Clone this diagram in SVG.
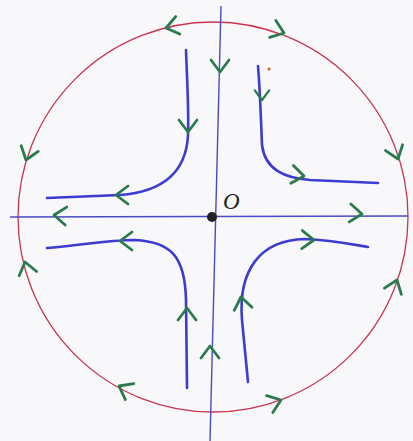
<svg xmlns="http://www.w3.org/2000/svg" width="413" height="441" viewBox="0 0 413 441">
<style>
.bg{fill:#f8f8fb}
.circ{fill:none;stroke:#c8344e;stroke-width:1.3}
.axis{fill:none;stroke:#4a4ac8;stroke-width:1.4}
.traj{fill:none;stroke:#3c3cd2;stroke-width:2.6;stroke-linecap:round;stroke-linejoin:round}
.chev{fill:none;stroke:#2b7a4c;stroke-width:2.8;stroke-linecap:round;stroke-linejoin:round}
.lbl{font-family:"Liberation Serif",serif;font-style:italic;font-size:23px;fill:#222}
</style>
<defs>
<path id="chev" class="chev" d="M-12,-9 L0,0 L-12,9"/>
</defs>
<rect class="bg" x="0" y="0" width="413" height="441"/>
<g id="circle-node">
<circle class="circ" cx="213" cy="217" r="195"/>
</g>
<g id="axes">
<path class="axis" d="M10,217 L408,216"/>
<path class="axis" d="M221,6 L210,441"/>
</g>
<g id="trajectories">
<path id="traj-ul" class="traj" d="M186,50 C187,80 189,110 188,135 C186,175 160,192 120,195 L47,198"/>
<path id="traj-ur" class="traj" d="M258,66 C260,90 261,120 262,145 C265,170 285,178 310,180 L378,183"/>
<path id="traj-ll" class="traj" d="M47,248 C80,245 110,240 135,240 C170,242 185,255 186,300 L187,388"/>
<path id="traj-lr" class="traj" d="M248,382 L242,320 C238,270 260,240 305,239 C330,240 350,244 368,247"/>
</g>
<g id="connectors">
<use href="#chev" transform="translate(188,132) rotate(90)"/>
<use href="#chev" transform="translate(116,195) rotate(180)"/>
<use href="#chev" transform="translate(262,100) rotate(90) scale(0.8)"/>
<use href="#chev" transform="translate(304,176) rotate(8)"/>
<use href="#chev" transform="translate(120,241) rotate(180)"/>
<use href="#chev" transform="translate(187,308) rotate(-90)"/>
<use href="#chev" transform="translate(241,297) rotate(-100)"/>
<use href="#chev" transform="translate(314,240) rotate(2)"/>
<use href="#chev" transform="translate(54,215) rotate(185)"/>
<use href="#chev" transform="translate(362,214) rotate(5)"/>
<use href="#chev" transform="translate(220,72) rotate(90)"/>
<use href="#chev" transform="translate(210,346) rotate(-90)"/>
<use href="#chev" transform="translate(166,28) rotate(167)"/>
<use href="#chev" transform="translate(284,33) rotate(20)"/>
<use href="#chev" transform="translate(26,160) rotate(108)"/>
<use href="#chev" transform="translate(398,159) rotate(71)"/>
<use href="#chev" transform="translate(25,262) rotate(-104)"/>
<use href="#chev" transform="translate(397,280) rotate(-70)"/>
<use href="#chev" transform="translate(119,386) rotate(-152)"/>
<use href="#chev" transform="translate(281,400) rotate(-20)"/>
</g>
<g id="origin">
<circle cx="212" cy="217" r="5" fill="#222"/>
<text class="lbl" x="223" y="209">O</text>
</g>
<circle cx="269" cy="69" r="1.5" fill="#d05a20"/>
</svg>
